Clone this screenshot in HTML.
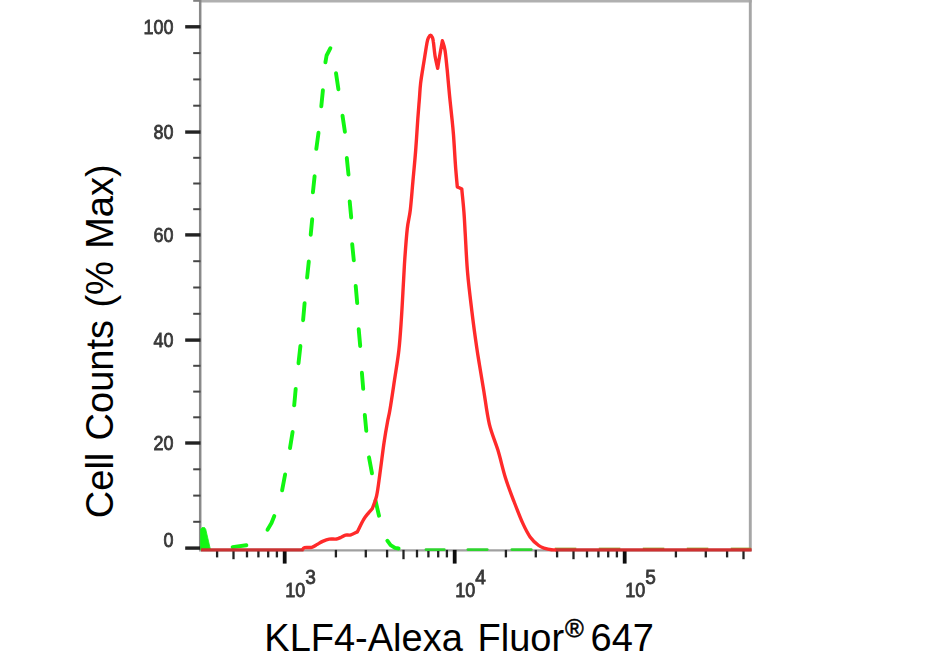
<!DOCTYPE html>
<html lang="en"><head><meta charset="utf-8"><title>KLF4 flow cytometry histogram</title>
<style>
html,body{margin:0;padding:0;background:#fff;}
body{width:932px;height:662px;overflow:hidden;position:relative;font-family:"Liberation Sans",Arial,sans-serif;}
svg{display:block;position:absolute;left:0;top:0;}
.tick{font-family:"Liberation Sans",Arial,sans-serif;font-size:20px;fill:#383838;stroke:#383838;stroke-width:0.8px;}
.ax{font-family:"Liberation Sans",Arial,sans-serif;font-size:38px;fill:#000;}
</style></head><body>
<svg width="932" height="662" viewBox="0 0 932 662">
<defs><filter id="soft" x="-10%" y="-10%" width="120%" height="120%"><feGaussianBlur stdDeviation="0.55"/></filter><filter id="soft2" filterUnits="userSpaceOnUse" x="180" y="-5" width="580" height="580"><feGaussianBlur stdDeviation="0.45"/></filter></defs>
<rect width="932" height="662" fill="#fff"/>

<g fill="none">
<line x1="199" y1="1.25" x2="751.8" y2="1.25" stroke="#b0b0b0" stroke-width="2.5"/>
<line x1="750.3" y1="0" x2="750.3" y2="550.9" stroke="#a6a6a6" stroke-width="2.9"/>
<line x1="200.2" y1="0" x2="200.2" y2="551.1" stroke="#8a8a8a" stroke-width="2.5"/>
<line x1="199" y1="550.3" x2="751.6" y2="550.3" stroke="#a0a0a0" stroke-width="2.2"/>
</g>
<g stroke="#222" fill="none" filter="url(#soft2)">
<line x1="185.2" y1="26.8" x2="200.5" y2="26.8" stroke-width="3.4"/>
<line x1="185.2" y1="132.05" x2="200.5" y2="132.05" stroke-width="3.4"/>
<line x1="185.2" y1="234.9" x2="200.5" y2="234.9" stroke-width="3.4"/>
<line x1="185.2" y1="340.1" x2="200.5" y2="340.1" stroke-width="3.4"/>
<line x1="185.2" y1="443.0" x2="200.5" y2="443.0" stroke-width="3.4"/>
<line x1="185.2" y1="548.1" x2="200.5" y2="548.1" stroke-width="3.4"/>
<line x1="193.2" y1="0.8" x2="200.5" y2="0.8" stroke-width="2" stroke="#808080"/>
<line x1="193.2" y1="53.1" x2="200.5" y2="53.1" stroke-width="2" stroke="#444"/>
<line x1="193.2" y1="79.4" x2="200.5" y2="79.4" stroke-width="2" stroke="#444"/>
<line x1="193.2" y1="105.7" x2="200.5" y2="105.7" stroke-width="2" stroke="#444"/>
<line x1="193.2" y1="157.8" x2="200.5" y2="157.8" stroke-width="2" stroke="#444"/>
<line x1="193.2" y1="183.5" x2="200.5" y2="183.5" stroke-width="2" stroke="#444"/>
<line x1="193.2" y1="209.2" x2="200.5" y2="209.2" stroke-width="2" stroke="#444"/>
<line x1="193.2" y1="261.2" x2="200.5" y2="261.2" stroke-width="2" stroke="#444"/>
<line x1="193.2" y1="287.5" x2="200.5" y2="287.5" stroke-width="2" stroke="#444"/>
<line x1="193.2" y1="313.8" x2="200.5" y2="313.8" stroke-width="2" stroke="#444"/>
<line x1="193.2" y1="365.8" x2="200.5" y2="365.8" stroke-width="2" stroke="#444"/>
<line x1="193.2" y1="391.6" x2="200.5" y2="391.6" stroke-width="2" stroke="#444"/>
<line x1="193.2" y1="417.3" x2="200.5" y2="417.3" stroke-width="2" stroke="#444"/>
<line x1="193.2" y1="469.3" x2="200.5" y2="469.3" stroke-width="2" stroke="#444"/>
<line x1="193.2" y1="495.6" x2="200.5" y2="495.6" stroke-width="2" stroke="#444"/>
<line x1="193.2" y1="521.8" x2="200.5" y2="521.8" stroke-width="2" stroke="#444"/>
</g>
<g stroke="#222" fill="none" filter="url(#soft2)">
<line x1="217.1" y1="549.9" x2="217.1" y2="557.4" stroke-width="2.3"/>
<line x1="233.5" y1="549.9" x2="233.5" y2="559.2" stroke-width="2.3"/>
<line x1="247.0" y1="549.9" x2="247.0" y2="557.4" stroke-width="2.3"/>
<line x1="258.4" y1="549.9" x2="258.4" y2="557.4" stroke-width="2.3"/>
<line x1="268.2" y1="549.9" x2="268.2" y2="557.4" stroke-width="2.3"/>
<line x1="276.9" y1="549.9" x2="276.9" y2="557.4" stroke-width="2.3"/>
<line x1="284.7" y1="549.9" x2="284.7" y2="563.6" stroke-width="3.8" stroke="#111"/>
<line x1="335.9" y1="549.9" x2="335.9" y2="557.4" stroke-width="2.3"/>
<line x1="365.8" y1="549.9" x2="365.8" y2="557.4" stroke-width="2.3"/>
<line x1="387.1" y1="549.9" x2="387.1" y2="557.4" stroke-width="2.3"/>
<line x1="403.5" y1="549.9" x2="403.5" y2="559.2" stroke-width="2.3"/>
<line x1="417.0" y1="549.9" x2="417.0" y2="557.4" stroke-width="2.3"/>
<line x1="428.4" y1="549.9" x2="428.4" y2="557.4" stroke-width="2.3"/>
<line x1="438.2" y1="549.9" x2="438.2" y2="557.4" stroke-width="2.3"/>
<line x1="446.9" y1="549.9" x2="446.9" y2="557.4" stroke-width="2.3"/>
<line x1="454.7" y1="549.9" x2="454.7" y2="563.6" stroke-width="3.8" stroke="#111"/>
<line x1="505.9" y1="549.9" x2="505.9" y2="557.4" stroke-width="2.3"/>
<line x1="535.8" y1="549.9" x2="535.8" y2="557.4" stroke-width="2.3"/>
<line x1="557.1" y1="549.9" x2="557.1" y2="557.4" stroke-width="2.3"/>
<line x1="573.5" y1="549.9" x2="573.5" y2="559.2" stroke-width="2.3"/>
<line x1="587.0" y1="549.9" x2="587.0" y2="557.4" stroke-width="2.3"/>
<line x1="598.4" y1="549.9" x2="598.4" y2="557.4" stroke-width="2.3"/>
<line x1="608.2" y1="549.9" x2="608.2" y2="557.4" stroke-width="2.3"/>
<line x1="616.9" y1="549.9" x2="616.9" y2="557.4" stroke-width="2.3"/>
<line x1="624.7" y1="549.9" x2="624.7" y2="563.6" stroke-width="3.8" stroke="#111"/>
<line x1="675.9" y1="549.9" x2="675.9" y2="557.4" stroke-width="2.3"/>
<line x1="705.8" y1="549.9" x2="705.8" y2="557.4" stroke-width="2.3"/>
<line x1="727.1" y1="549.9" x2="727.1" y2="557.4" stroke-width="2.3"/>
<line x1="743.5" y1="549.9" x2="743.5" y2="559.2" stroke-width="2.3"/>
</g>
<g stroke="#12f612" stroke-width="3.9" fill="none" stroke-linecap="round" stroke-linejoin="round">
<polyline points="232.6,547.1 246.4,545.2"/>
<polyline points="267.5,529.8 271.5,523.0 274.3,516.0"/>
<polyline points="282.1,490.4 285.1,474.5"/>
<polyline points="290.0,448.1 292.6,432.0"/>
<polyline points="294.2,405.4 295.7,388.9"/>
<polyline points="298.5,363.2 300.4,346.0"/>
<polyline points="303.1,320.2 304.6,303.1"/>
<polyline points="307.1,277.6 308.8,261.5"/>
<polyline points="310.7,234.7 312.2,219.2"/>
<polyline points="312.9,192.4 314.6,176.3"/>
<polyline points="316.3,148.9 318.5,132.8"/>
<polyline points="321.3,106.4 322.9,90.3"/>
<polyline points="325.4,62.4 326.6,55.5 330.4,48.2"/>
<polyline points="336.0,73.1 338.4,89.2"/>
<polyline points="342.5,115.6 344.9,131.7"/>
<polyline points="346.8,158.0 348.5,174.6"/>
<polyline points="349.7,201.4 351.2,217.5"/>
<polyline points="352.2,244.3 353.8,260.4"/>
<polyline points="355.7,285.9 357.2,303.1"/>
<polyline points="358.7,329.2 360.2,346.0"/>
<polyline points="361.9,372.8 363.2,388.9"/>
<polyline points="364.8,414.9 366.3,430.9"/>
<polyline points="369.0,457.3 372.0,473.4"/>
<polyline points="375.5,500.6 379.0,515.7"/>
<polyline points="387.3,540.7 390.6,545.2 395.0,547.9 398.6,548.5"/>
<line x1="425.9" y1="549.6" x2="444.4" y2="549.6" stroke-width="2.6" stroke="#2fd42f"/>
<line x1="467.8" y1="549.6" x2="487.3" y2="549.6" stroke-width="2.6" stroke="#2fd42f"/>
<line x1="511.8" y1="549.6" x2="531.3" y2="549.6" stroke-width="2.6" stroke="#2fd42f"/>
<line x1="554.8" y1="548.4" x2="576.3" y2="548.4" stroke-width="1.6" stroke="#9aa832" stroke-linecap="butt"/>
<line x1="598.8" y1="548.4" x2="620.3" y2="548.4" stroke-width="1.6" stroke="#9aa832" stroke-linecap="butt"/>
<line x1="642.8" y1="548.4" x2="664.3" y2="548.4" stroke-width="1.6" stroke="#9aa832" stroke-linecap="butt"/>
<line x1="686.8" y1="548.4" x2="708.3" y2="548.4" stroke-width="1.6" stroke="#9aa832" stroke-linecap="butt"/>
<line x1="730.8" y1="548.4" x2="751" y2="548.4" stroke-width="1.6" stroke="#9aa832" stroke-linecap="butt"/>
</g>
<polygon points="200.6,549.9 200.6,529.4 202,527.6 204.6,527.6 205.8,529.5 210.3,548.9" fill="#12f612" stroke="#12f612" stroke-width="0.8" stroke-linejoin="round"/>
<line x1="201" y1="549.9" x2="303.5" y2="549.9" stroke="#c93232" stroke-width="3.2"/>
<line x1="555" y1="549.9" x2="751.6" y2="549.9" stroke="#cf3030" stroke-width="3.2"/>
<path d="M302.5,549.9C302.8,549.5 302.9,548.0 304.5,547.6C306.1,547.2 309.7,547.8 311.8,547.3C313.9,546.8 315.2,545.6 317.0,544.6C318.8,543.6 320.6,542.3 322.6,541.4C324.6,540.5 326.9,539.5 329.2,539.1C331.5,538.7 334.5,539.3 336.5,539.0C338.5,538.7 339.5,537.9 341.0,537.3C342.5,536.6 343.9,535.5 345.5,535.1C347.1,534.7 348.9,535.4 350.9,534.9C352.9,534.4 356.2,532.4 357.3,531.9C358.4,529.8 361.9,522.4 363.7,519.4C365.5,516.4 366.6,515.4 368.0,513.6C369.4,511.8 371.6,509.5 372.3,508.7C373.0,506.6 375.4,501.5 376.6,495.8C377.9,490.1 378.6,483.3 379.8,474.4C381.1,465.5 382.8,450.9 384.1,442.2C385.4,433.5 386.5,427.4 387.5,422.0C388.5,416.6 388.7,417.0 389.9,410.0C391.1,403.0 393.0,390.0 394.5,380.0C396.0,370.0 397.8,360.0 398.9,350.0C400.0,340.0 400.5,331.7 401.3,320.0C402.1,308.3 403.0,290.2 403.6,280.0C404.2,269.8 404.2,267.6 404.8,259.0C405.4,250.4 406.4,236.7 407.3,228.5C408.2,220.3 409.4,217.8 410.3,210.0C411.2,202.2 412.0,191.5 412.9,181.5C413.8,171.5 414.9,160.4 415.7,150.0C416.5,139.6 417.2,127.3 417.8,119.0C418.4,110.7 418.8,105.9 419.3,100.0C419.8,94.1 419.9,89.4 420.6,83.4C421.3,77.4 422.5,70.6 423.6,63.8C424.7,57.0 426.2,47.1 427.0,42.7C427.8,38.3 428.0,38.7 428.6,37.5C429.2,36.3 430.0,35.3 430.6,35.3C431.2,35.3 431.9,36.5 432.4,37.5C432.8,38.5 432.9,38.4 433.3,41.5C433.8,44.6 434.4,51.8 435.1,56.3C435.8,60.8 437.3,66.3 437.7,68.3C438.1,65.5 439.6,56.3 440.4,51.7C441.2,47.1 442.1,42.6 442.4,40.8C442.8,42.4 444.2,45.4 445.0,50.2C445.8,55.0 446.4,62.3 447.2,69.8C447.9,77.3 448.7,86.8 449.5,95.0C450.3,103.2 451.3,112.3 452.0,119.0C452.7,125.7 452.9,127.4 453.5,135.0C454.1,142.6 454.8,155.8 455.4,164.4C456.0,173.1 457.0,183.2 457.3,186.9C458.1,187.3 461.1,188.7 461.8,189.1C462.1,192.8 463.3,203.9 463.9,211.6C464.5,219.2 464.7,224.8 465.3,235.0C465.9,245.2 466.5,260.1 467.6,272.9C468.7,285.6 470.4,299.0 471.9,311.5C473.4,324.0 475.5,339.1 476.8,348.0C478.1,356.9 478.3,357.6 479.5,365.0C480.7,372.4 482.4,382.3 484.0,392.2C485.6,402.1 487.1,414.8 489.4,424.4C491.7,434.0 495.2,441.2 497.9,450.1C500.6,459.0 502.8,469.4 505.5,478.0C508.2,486.6 511.1,494.0 514.0,501.5C516.9,509.0 519.9,517.0 522.6,522.9C525.3,528.8 527.4,533.1 530.1,536.9C532.8,540.7 536.2,543.6 538.7,545.5C541.2,547.4 542.9,547.7 545.0,548.4C547.1,549.1 549.8,549.5 551.6,549.7C553.4,550.0 555.3,549.9 556.0,549.9" fill="none" stroke="#ff2a2a" stroke-width="3.4" stroke-linejoin="round" stroke-linecap="butt"/>
<g filter="url(#soft)">
<text class="tick" x="143.6" y="34.0" textLength="30" lengthAdjust="spacingAndGlyphs">100</text>
<text class="tick" x="153.6" y="139.2" textLength="20" lengthAdjust="spacingAndGlyphs">80</text>
<text class="tick" x="153.6" y="242.1" textLength="20" lengthAdjust="spacingAndGlyphs">60</text>
<text class="tick" x="153.6" y="347.3" textLength="20" lengthAdjust="spacingAndGlyphs">40</text>
<text class="tick" x="153.6" y="450.2" textLength="20" lengthAdjust="spacingAndGlyphs">20</text>
<text class="tick" x="163.6" y="547.2" textLength="10" lengthAdjust="spacingAndGlyphs">0</text>
<text class="tick" x="285.3" y="596.6" textLength="20" lengthAdjust="spacingAndGlyphs">10</text>
<text class="tick" x="305.3" y="583.9" textLength="10.6" lengthAdjust="spacingAndGlyphs">3</text>
<text class="tick" x="455.3" y="596.6" textLength="20" lengthAdjust="spacingAndGlyphs">10</text>
<text class="tick" x="475.3" y="583.9" textLength="10.6" lengthAdjust="spacingAndGlyphs">4</text>
<text class="tick" x="625.3" y="596.6" textLength="20" lengthAdjust="spacingAndGlyphs">10</text>
<text class="tick" x="645.3" y="583.9" textLength="10.6" lengthAdjust="spacingAndGlyphs">5</text>
</g>
<text class="ax" x="264.3" y="650.8">KLF4-Alexa<tspan dx="14.7">Fluor</tspan><tspan font-size="25.5" dy="-13.6" dx="0.8" stroke="#000" stroke-width="0.5">®</tspan><tspan dy="13.6" dx="6.8">647</tspan></text>
<text class="ax" transform="translate(112.6,518.2) rotate(-90)" x="0" y="0" style="word-spacing:1.8px">Cell Counts (% Max)</text>
</svg></body></html>
